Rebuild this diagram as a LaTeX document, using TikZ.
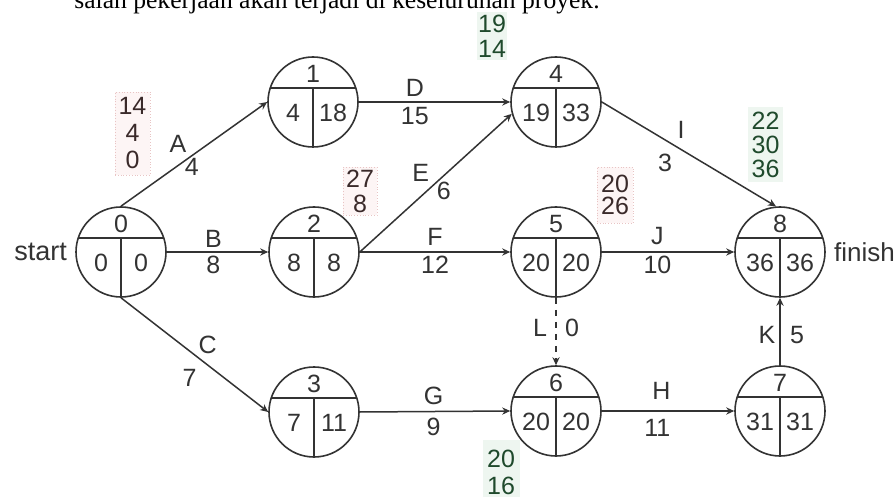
\documentclass[tikz,border=0pt]{standalone}
\usepackage{fontspec}
\setmainfont{Liberation Sans}
\newfontfamily\capfont{Liberation Serif}
\usetikzlibrary{arrows.meta}
\definecolor{ln}{HTML}{333333}
\definecolor{redfill}{HTML}{FDF5F5}
\definecolor{redline}{HTML}{E8C4C4}
\definecolor{redtext}{HTML}{3A2A2A}
\definecolor{greenfill}{HTML}{EEF6F0}
\definecolor{greentext}{HTML}{1F4A2C}
\tikzset{
  ev/.style={circle, draw=ln, line width=0.8pt, minimum size=45pt, inner sep=0pt},
  part/.style={draw=ln, line width=0.8pt},
  num/.style={text=ln, inner sep=0pt},
  arr/.style={draw=ln, line width=0.75pt, -{Stealth[length=4pt,width=3.6pt]}},
  lab/.style={text=ln, inner sep=0pt},
  redbox/.style={draw=redline, densely dotted, line width=0.4pt, fill=redfill, text=redtext, align=center, inner sep=0pt},
  greenbox/.style={draw=none, fill=greenfill, text=greentext, align=center, inner sep=0pt},
}
\newcommand\evnode[6]{%
  \node[ev] (#1) at (#2,#3) {};
  \draw[part] (#2-42.8,#3-14) -- (#2+42.8,#3-14);
  \draw[part] (#2,#3-14) -- (#2,#3+45);
  \node[num] (#1top) at (#2,#3-28) {#4};
  \node[num] (#1es) at (#2-20,#3+11) {#5};
  \node[num] (#1lf) at (#2+20,#3+11) {#6};
}
\begin{document}
\begin{tikzpicture}[x=0.5pt,y=-0.5pt,font=\fontsize{12.5}{13}\selectfont]
\useasboundingbox (0,0) rectangle (894,497);
\clip (0,0) rectangle (894,497);
\fill[white] (0,0) rectangle (894,497);

\node[font=\capfont\fontsize{12.8}{14}\selectfont, anchor=base east, inner sep=0pt] (cap) at (600,8.5) {salah pekerjaan akan terjadi di keseluruhan proyek.};

% annotation boxes
\node[redbox, minimum width=17.5pt, minimum height=41.5pt, font=\fontsize{12.5}{13.5}\selectfont] (r1) at (132.5,133.5) {14\\4\\0};
\node[redbox, minimum width=17pt, minimum height=24pt, font=\fontsize{12.5}{12.5}\selectfont] (r2) at (360,191) {27\\8};
\node[redbox, minimum width=18pt, minimum height=28pt, font=\fontsize{12.5}{11}\selectfont] (r3) at (615,195) {20\\26};
\node[greenbox, minimum width=15pt, minimum height=24pt, font=\fontsize{12.5}{12.5}\selectfont] (g1) at (492,36) {19\\14};
\node[greenbox, minimum width=17.5pt, minimum height=37.5pt, font=\fontsize{12.5}{12}\selectfont] (g2) at (765.5,144.5) {22\\30\\36};
\node[greenbox, minimum width=18.5pt, minimum height=32.5pt, font=\fontsize{12.5}{13.5}\selectfont] (g3) at (501,472) {20\\16};

% events
\evnode{n0}{121}{252}{0}{0}{0}
\evnode{n1}{313}{102}{1}{4}{18}
\evnode{n2}{314}{252}{2}{8}{8}
\evnode{n3}{314}{412}{3}{7}{11}
\evnode{n4}{556}{102}{4}{19}{33}
\evnode{n5}{556}{252}{5}{20}{20}
\evnode{n6}{556}{411}{6}{20}{20}
\evnode{n7}{780}{411}{7}{31}{31}
\evnode{n8}{780}{252}{8}{36}{36}

\node[lab, anchor=east, font=\fontsize{13.5}{14}\selectfont] (st) at (n0.west) [xshift=-4pt] {start};
\node[lab, anchor=west, font=\fontsize{13}{14}\selectfont] (fi) at (n8.east) [xshift=4pt] {finish};

% activities
\draw[arr] (n0.north) -- (n1.west)
  node[lab, pos=0.43, shift={(-6,-17)}] {A} node[lab, pos=0.43, shift={(8,6)}] {4};
\draw[arr] (n0.east) -- (n2.west)
  node[lab, pos=0.46, shift={(0,-13)}] {B} node[lab, pos=0.46, shift={(0,13)}] {8};
\draw[arr] (n0.south) -- (n3.west)
  node[lab, pos=0.5, shift={(13,-10)}] {C} node[lab, pos=0.5, shift={(-5,23)}] {7};
\draw[arr] (n1.east) -- (n4.west)
  node[lab, pos=0.37, shift={(0,-14)}] {D} node[lab, pos=0.37, shift={(0,14)}] {15};
\draw[arr] (n2.east) -- (n4.195)
  node[lab, pos=0.467, shift={(-10,-15)}] {E} node[lab, pos=0.467, shift={(13,3)}] {6};
\draw[arr] (n2.east) -- (n5.west)
  node[lab, pos=0.5, shift={(0,-15)}] {F} node[lab, pos=0.5, shift={(0,13)}] {12};
\draw[arr] (n3.east) -- (n6.west)
  node[lab, pos=0.49, shift={(0,-16)}] {G} node[lab, pos=0.49, shift={(0,15)}] {9};
\draw[arr] (n4.east) -- (n8.95)
  node[lab, pos=0.42, shift={(6,-16)}] {I} node[lab, pos=0.42, shift={(-10,17)}] {3};
\draw[arr] (n5.east) -- (n8.west)
  node[lab, pos=0.42, shift={(0,-16)}] {J} node[lab, pos=0.42, shift={(0,13)}] {10};
\draw[arr] (n6.east) -- (n7.west)
  node[lab, pos=0.45, shift={(0,-20)}] {H} node[lab, pos=0.42, shift={(0,17)}] {11};
\draw[arr] (n7.north) -- (n8.south)
  node[lab, pos=0.45, shift={(-13,0)}] {K} node[lab, pos=0.45, shift={(17,0)}] {5};
\draw[arr, dashed] (n5.south) -- (n6.north)
  node[lab, pos=0.45, shift={(-16,0)}] {L} node[lab, pos=0.45, shift={(16,0)}] {0};
\end{tikzpicture}
\end{document}
